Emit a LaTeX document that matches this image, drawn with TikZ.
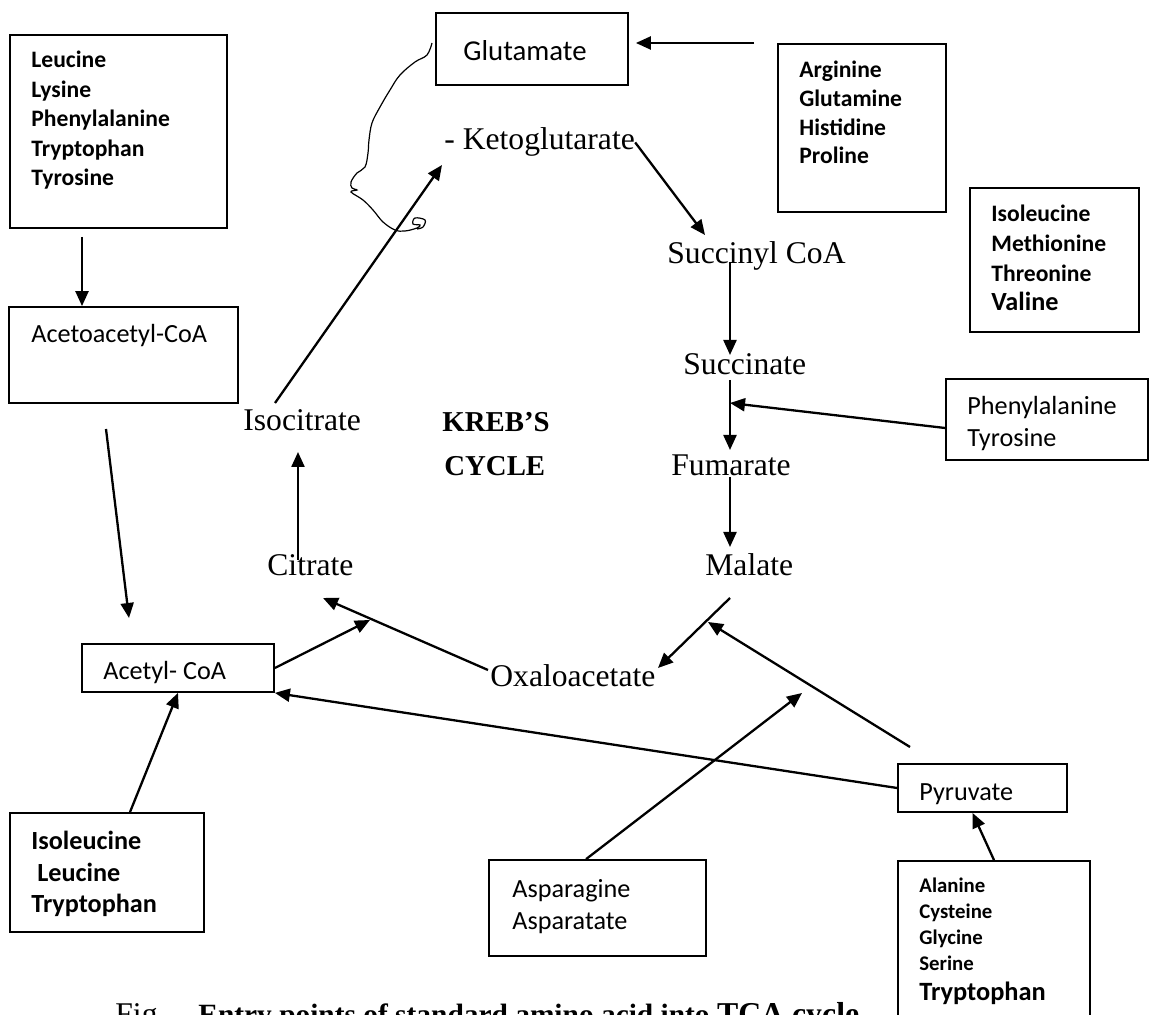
\documentclass[tikz,border=0pt]{standalone}
\usepackage{fontspec}
\setmainfont{Liberation Serif}
\newfontfamily\carlito{Carlito}
\usetikzlibrary{arrows.meta,fit,calc}

\tikzset{
  box/.style={draw,line width=.9pt,inner sep=0pt},
  arr/.style={line width=1.15pt,-{Triangle[length=7.5pt,width=6.5pt]}},
  stage/.style={inner sep=0pt,anchor=base west,font=\fontsize{15.8}{19}\selectfont},
  title/.style={inner sep=0pt,anchor=base west,font=\bfseries\fontsize{14.4}{17}\selectfont},
  entry/.style={inner sep=0pt,anchor=base west,align=left,font=\carlito\fontsize{13.1}{16}\selectfont},
  aalist/.style={inner sep=0pt,anchor=base west,align=left,font=\carlito\bfseries\fontsize{11.8}{14.75}\selectfont},
}

\begin{document}
\begin{tikzpicture}[x=.5pt,y=-.5pt]
\useasboundingbox (0,0) rectangle (1152,1015);
\clip (0,0) rectangle (1152,1015);

% boxes
\node[box,fit={(10,35) (227,228)}] (keto) {};
\node[box,fit={(436,13) (628,85)}] (glu) {};
\node[box,fit={(778,44) (946,212)}] (argbox) {};
\node[box,fit={(970,188) (1139,332)}] (metbox) {};
\node[box,fit={(946,379) (1148,460)}] (phebox) {};
\node[box,fit={(9,307) (238,403)}] (acac) {};
\node[box,fit={(82,644) (274,692)}] (acoa) {};
\node[box,fit={(10,813) (204,932)}] (ltbox) {};
\node[box,fit={(489,860) (706,956)}] (aspbox) {};
\node[box,fit={(898,764) (1067,812)}] (pyr) {};
\node[box,fit={(898,861) (1090,1040)}] (alabox) {};

% box texts (base = last line)
\node[aalist] at (31,186) {Leucine\\Lysine\\Phenylalanine\\Tryptophan\\Tyrosine};
\node[entry,font=\carlito\fontsize{14.4}{17}\selectfont] at (463,61) {Glutamate};
\node[aalist,font=\carlito\bfseries\fontsize{11.8}{14.35}\selectfont] at (799,164) {Arginine\\Glutamine\\Histidine\\Proline};
\node[aalist,font=\carlito\bfseries\fontsize{11.8}{14.85}\selectfont] at (991,311) {Isoleucine\\Methionine\\Threonine\\{\fontsize{13.1}{16}\selectfont Valine}};
\node[entry] at (967,447) {Phenylalanine\\Tyrosine};
\node[entry] at (31,343) {Acetoacetyl-CoA};
\node[entry] at (103,680) {Acetyl- CoA};
\node[aalist,font=\carlito\bfseries\fontsize{13.1}{16}\selectfont] at (31,913) {Isoleucine\\\hspace{3pt}Leucine\\Tryptophan};
\node[entry] at (512,929) {Asparagine\\Asparatate};
\node[entry] at (919,800) {Pyruvate};
\node[aalist,font=\carlito\bfseries\fontsize{10.4}{13}\selectfont] at (919,1000) {Alanine\\Cysteine\\Glycine\\Serine\\[2pt]{\fontsize{13.2}{16}\selectfont Tryptophan}};

% cycle
\node[stage] (akg) at (444,150) {- Ketoglutarate};
\node[stage] (sca) at (667,264) {Succinyl CoA};
\node[stage] (succ) at (683,375) {Succinate};
\node[stage] (fum) at (671,476) {Fumarate};
\node[stage] (mal) at (705,576) {Malate};
\node[stage] (oaa) at (490,687) {Oxaloacetate};
\node[stage] (cit) at (267,576) {Citrate};
\node[stage] (icit) at (243,431) {Isocitrate};
\node[title] (krebs) at (442,432) {KREB’S};
\node[title] (cycle) at (444,476) {CYCLE};

% arrow ends
\coordinate (k1) at (82,237);
\coordinate (a1) at (106,429);
\coordinate (a2) at (129,618);
\coordinate (g1) at (754,43);
\coordinate (ic1) at (275,403);
\coordinate (ak1) at (442,165);
\coordinate (sc1) at (705,235);
\coordinate (sc2) at (730,262);
\coordinate (su1) at (730,355);
\coordinate (su2) at (730,380);
\coordinate (fu1) at (730,450);
\coordinate (fu2) at (730,477);
\coordinate (ph1) at (730,403);
\coordinate (ma1) at (730,547);
\coordinate (ma2) at (730,598);
\coordinate (ma3) at (708,622);
\coordinate (oa1) at (658,668);
\coordinate (oa2) at (488,670);
\coordinate (oa3) at (802,693);
\coordinate (py1) at (910,747);
\coordinate (ci1) at (323,598);
\coordinate (ci2) at (370,620);
\coordinate (ci3) at (298,560);
\coordinate (ci4) at (298,452);

\draw[arr] (k1) -- (k1 |- acac.north);
\draw[arr] (a1) -- (a2);
\draw[arr] (g1) -- ($(glu.east |- g1)+(7,0)$);
\draw[arr] (ic1) -- (ak1);
\draw[arr] (akg.east) -- (sc1);
\draw[arr] (sc2) -- (su1);
\draw[arr] (su2) -- (fu1);
\draw[arr] ($(phebox.west)+(0,8.5)$) -- (ph1);
\draw[arr] (fu2) -- (ma1);
\draw[arr] (ma2) -- (oa1);
\draw[arr] (py1) -- (ma3);
\draw[arr] ($(aspbox.north west)+(98,0)$) -- (oa3);
\draw[arr] (pyr.west) -- (acoa.south east);
\draw[arr] (alabox.north) -- ($(pyr.south)+(-10,0)$);
\draw[arr] ($(ltbox.north)+(23,0)$) -- (acoa.south);
\draw[arr] (acoa.east) -- (ci2);
\draw[arr] (oa2) -- (ci1);
\draw[arr] (ci3) -- (ci4);

% pen stroke from glutamate
\draw[line width=.6pt] plot[smooth,tension=.6] coordinates {(432,43) (427,55) (415,62) (400,75) (390,90) (380,107) (372,123) (369,140) (368,153) (365,167) (357,173) (351,182) (352,188) (357,190) (351,192) (363,200) (373,210) (383,222) (395,230) (405,231) (417,228) (420,225) (413,224) (415,218) (425,220) (423,227) (417,229)};

% caption
\node[stage] (fig) at (115,1024) {Fig.};
\node[inner sep=0pt,anchor=base west,font=\bfseries\fontsize{14.7}{18}\selectfont] (caption) at (198,1024) {Entry points of standard amino acid into {\fontsize{15.9}{19}\selectfont TCA cycle}};
\end{tikzpicture}
\end{document}
